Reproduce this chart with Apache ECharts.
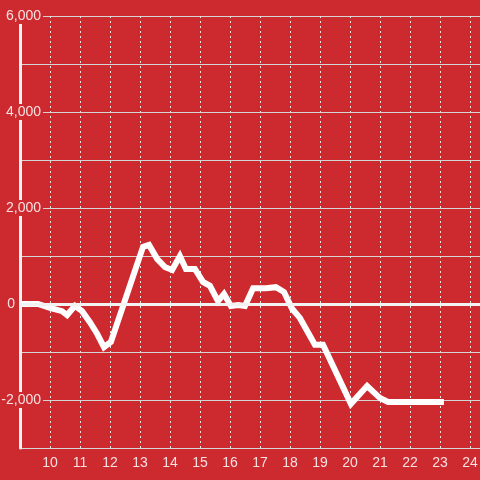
<!DOCTYPE html>
<html>
<head>
<meta charset="utf-8">
<script src="https://cdn.jsdelivr.net/npm/echarts@6/dist/echarts.min.js"></script>
<style>
  html, body { margin: 0; padding: 0; background: #cd2a30; }
  #chart { width: 480px; height: 480px; }
</style>
</head>
<body>
<div id="chart"></div>
<script>
// hour of day (x) and value (y)
const hours = [9.0, 9.6, 10.0, 10.4, 10.57, 10.83, 11.07, 11.33, 11.57, 11.8, 12.03,
  13.1, 13.3, 13.57, 13.83, 14.07, 14.33, 14.53, 14.83, 15.1, 15.33, 15.6, 15.8,
  16.03, 16.27, 16.5, 16.77, 17.2, 17.53, 17.8, 18.07, 18.33, 18.83, 19.1,
  20.03, 20.57, 21.0, 21.27, 23.13];
const values = [0, 0, -80, -150, -230, -40, -150, -380, -620, -900, -790,
  1190, 1230, 940, 770, 710, 1000, 730, 730, 460, 380, 60, 210,
  -40, -20, -40, 330, 330, 350, 250, -100, -290, -850, -850,
  -2080, -1710, -1960, -2040, -2040];
const yLabels = [-2000, 0, 2000, 4000, 6000];

const red = '#cd2a30';
const textColor = 'rgba(255,255,255,0.85)';

const chart = echarts.init(document.getElementById('chart'));
chart.setOption({
  backgroundColor: red,
  animation: false,
  grid: { left: 20, right: 0, top: 16, bottom: 32, containLabel: false, outerBoundsMode: 'none' },
  xAxis: {
    type: 'value',
    min: 9,
    max: 9 + 460 / 30,
    interval: 1,
    axisLine: { show: false },
    axisTick: { show: false },
    axisLabel: {
      color: textColor,
      fontSize: 14,
      fontFamily: 'Liberation Sans',
      margin: 8,
      formatter: v => (Number.isInteger(v) && v > 9 ? String(v) : '')
    },
    splitLine: { lineStyle: { color: '#e6e6e6', width: 1, type: [2, 3] } }
  },
  yAxis: {
    type: 'value',
    min: -3000,
    max: 6000,
    interval: 1000,
    axisLine: { show: true, onZero: false, lineStyle: { color: '#f2f2f2', width: 3 } },
    axisTick: { show: false },
    axisLabel: {
      inside: false,
      margin: -23,
      align: 'right',
      fontSize: 14,
      fontFamily: 'Liberation Sans',
      color: textColor,
      formatter: v => {
        if (!yLabels.includes(v)) return '';
        if (v === 0) return '{z|0}';
        return '{a|' + v.toLocaleString('en-US') + '}';
      },
      rich: {
        a: { color: textColor, fontSize: 14, fontFamily: 'Liberation Sans', backgroundColor: red, padding: [1, 2, 1, 4] },
        z: { color: textColor, fontSize: 14, fontFamily: 'Liberation Sans', padding: [0, 28, 0, 0] }
      }
    },
    splitLine: { lineStyle: { color: '#d4d4d4', width: 1 } }
  },
  series: [{
    type: 'line',
    data: hours.map((h, i) => [h, values[i]]),
    symbol: 'none',
    lineStyle: { color: '#ffffff', width: 6, join: 'miter' },
    markLine: {
      silent: true,
      symbol: 'none',
      label: { show: false },
      lineStyle: { color: '#f2f2f2', width: 3, type: 'solid' },
      data: [{ yAxis: 0 }]
    },
    z: 3
  }]
});
</script>
</body>
</html>
